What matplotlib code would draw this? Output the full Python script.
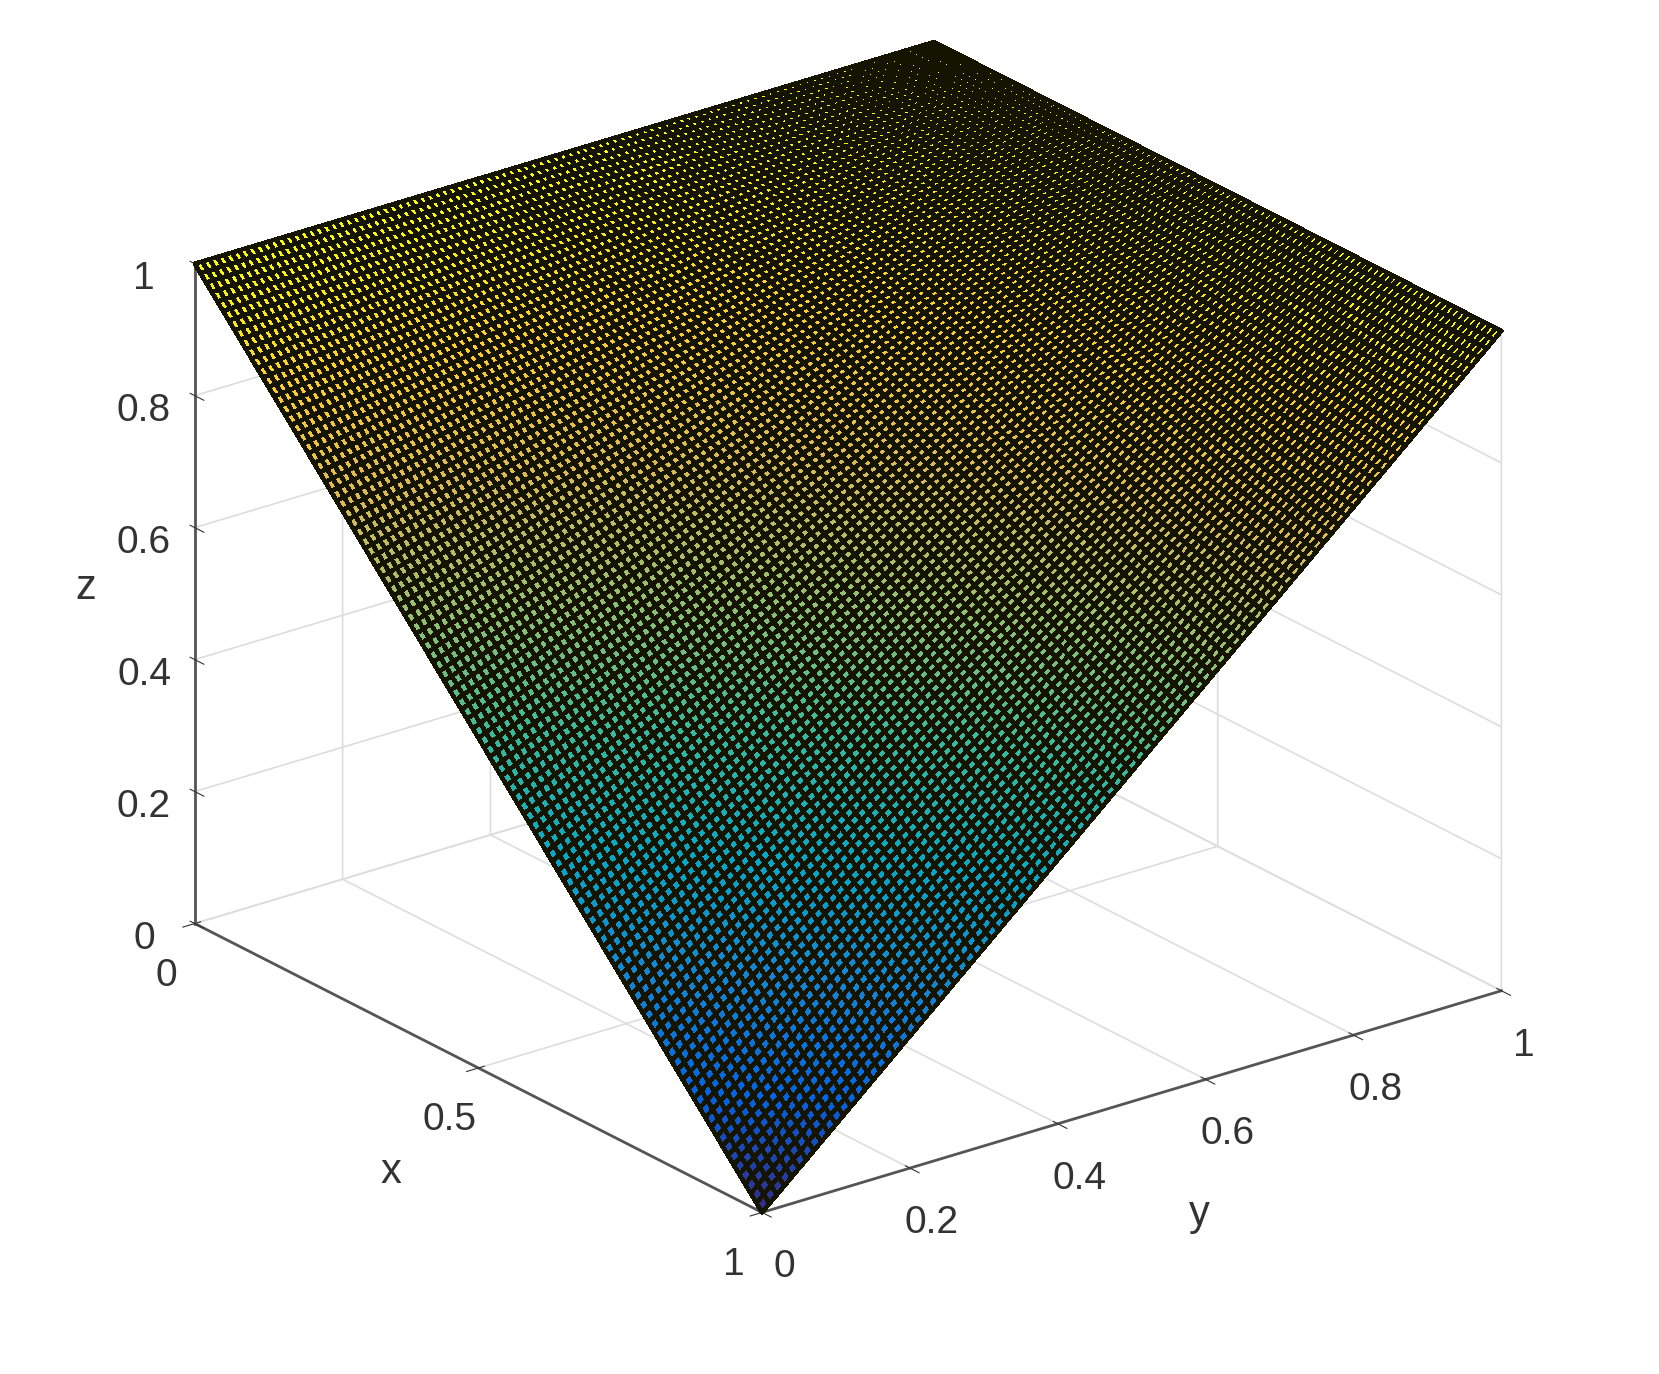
import numpy as np
import matplotlib.pyplot as plt
from matplotlib.colors import LinearSegmentedColormap

plt.rcParams["font.family"] = ["Liberation Sans", "DejaVu Sans"]

# parula-like colormap (MATLAB default)
parula_pts = ["#352a87", "#0363e1", "#1485d4", "#06a7c6", "#38b99e",
              "#92bf73", "#d9ba56", "#fcce2e", "#f9fb0e"]
parula = LinearSegmentedColormap.from_list("parula", parula_pts)

x_vals = np.linspace(0, 1, 101)
y_vals = np.linspace(0, 1, 101)
X, Y = np.meshgrid(x_vals, y_vals)
Z = 1 - X + X * Y

xticks = [0, 0.5, 1]
yticks = [0, 0.2, 0.4, 0.6, 0.8, 1]
zticks = [0, 0.2, 0.4, 0.6, 0.8, 1]

fig = plt.figure(figsize=(16.59, 13.74), dpi=100)
ax = fig.add_axes([0.0, 0.03, 1.0, 1.0], projection="3d")
ax.plot_surface(X, Y, Z, facecolors=parula(Z), edgecolor="#141400",
                linewidth=2.4, shade=False, antialiased=False,
                rstride=1, cstride=1)
ax.set_proj_type("ortho")
ax.view_init(elev=23, azim=-37.5)
ax.set_xlim(0, 1); ax.set_ylim(0, 1); ax.set_zlim(0, 1)
ax.set_xticks(xticks); ax.set_yticks(yticks); ax.set_zticks(zticks)
ax.set_xticklabels([f"{v:g}" for v in xticks])
ax.set_yticklabels([f"{v:g}" for v in yticks])
ax.set_zticklabels([f"{v:g}" for v in zticks])
ax.zaxis._axinfo["juggled"] = (1, 2, 0)
ax.set_xlabel("x", fontsize=30, labelpad=40, color="#333333")
ax.set_ylabel("y", fontsize=30, labelpad=40, color="#333333")
ax.set_zlabel("z", fontsize=30, labelpad=22, color="#333333")
ax.tick_params(labelsize=28, colors="#333333", pad=12)
for a in (ax.xaxis, ax.yaxis, ax.zaxis):
    a.set_pane_color((1, 1, 1, 0))
    a._axinfo["grid"]["color"] = "#dddddd"
    a._axinfo["grid"]["linewidth"] = 1.2
    a.line.set_color("#555555")
    a.line.set_linewidth(2)
ax.set_box_aspect((1.04, 1.04, 0.8), zoom=1.06)
fig.savefig("out.png", dpi=100, facecolor="white")
